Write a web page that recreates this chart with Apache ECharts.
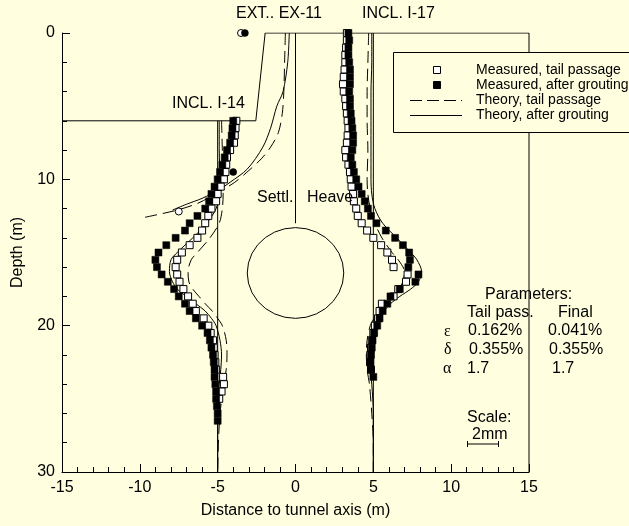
<!DOCTYPE html>
<html>
<head>
<meta charset="utf-8">
<script src="https://cdn.jsdelivr.net/npm/echarts@6/dist/echarts.min.js"></script>
<style>
  html, body { margin: 0; padding: 0; background: #ffffe0; }
  #chart { width: 629px; height: 526px; }
</style>
</head>
<body>
<div id="chart"></div>
<script>
// ---- axes ----
const xRange = [-15, 15];      // distance to tunnel axis (m)
const depthRange = [0, 30];    // depth (m)

// ---- inclinometer positions (m) ----
const i14Line = -5;
const i17Line = 5;

// ---- I-14 measured horizontal displacement (mm, 1 mm drawn as 1 m) ----
const i14DepthAfter = [6.0, 6.5, 7.0, 7.5, 8.0, 8.5, 9.0, 9.5, 10.0, 10.5, 11.0, 11.5, 12.0, 12.5, 13.0, 13.5,
  14.0, 14.5, 15.0, 15.5, 16.0, 16.5, 17.0, 17.5, 18.0, 18.5, 19.0, 19.5, 20.0, 20.5, 21.0, 21.5,
  22.0, 22.5, 23.0, 23.5, 24.0, 24.5, 25.0, 25.5, 26.0, 26.5];
const i14After = [1.0, 0.95, 0.9, 0.8, 0.6, 0.45, 0.3, 0.15, 0.0, -0.2, -0.4, -0.55, -0.8, -1.3, -1.8, -2.1,
  -2.7, -3.3, -3.8, -4.0, -3.9, -3.6, -3.2, -2.8, -2.5, -2.1, -1.8, -1.4, -1.0, -0.65, -0.5, -0.4,
  -0.3, -0.25, -0.2, -0.2, -0.15, -0.1, -0.1, -0.05, 0.0, 0.0];

const i14DepthTail = [6.0, 6.5, 7.0, 7.5, 8.0, 8.5, 9.0, 9.5, 10.0, 10.5, 11.0, 11.5, 12.0, 12.5, 13.0, 13.5,
  14.0, 14.5, 15.0, 15.5, 16.0, 16.5, 17.0, 17.5, 18.0, 18.5, 19.0, 19.5, 20.0, 20.5, 21.0, 21.5,
  22.0, 22.5, 23.0, 23.5, 24.0, 24.5, 25.0];
const i14Tail = [1.2, 1.15, 1.1, 1.05, 0.8, 0.6, 0.55, 0.5, 0.4, 0.2, 0.0, -0.1, -0.4, -0.6, -0.8, -1.0,
  -1.3, -1.8, -2.3, -2.6, -2.7, -2.6, -2.45, -2.2, -1.9, -1.6, -1.4, -0.9, -0.6, -0.45, -0.3, -0.25,
  -0.2, -0.15, -0.1, 0.35, 0.4, 0.25, 0.1];

// ---- I-17 measured horizontal displacement (mm) ----
const i17DepthAfter = [0.0, 0.5, 1.0, 1.5, 2.0, 2.5, 3.0, 3.5, 4.0, 4.5, 5.0, 5.5, 6.0, 6.5, 7.0, 7.5,
  8.0, 8.5, 9.0, 9.5, 10.0, 10.5, 11.0, 11.5, 12.0, 12.5, 13.0, 13.5, 14.0, 14.5, 15.0, 15.5,
  16.0, 16.5, 17.0, 17.5, 18.0, 18.5, 19.0, 19.5, 20.0, 20.5, 21.0, 21.5, 22.0, 22.5, 23.0, 23.5];
const i17After = [-1.6, -1.55, -1.6, -1.6, -1.55, -1.5, -1.5, -1.5, -1.55, -1.5, -1.5, -1.45, -1.4, -1.35, -1.3, -1.3,
  -1.35, -1.45, -1.35, -1.25, -1.1, -0.95, -0.75, -0.55, -0.35, -0.15, 0.2, 0.8, 1.4, 1.9, 2.3, 2.35,
  2.25, 2.9, 2.7, 1.7, 1.1, 0.9, 0.6, 0.4, 0.25, 0.05, -0.05, -0.1, -0.15, -0.2, -0.15, 0.0];

const i17DepthTail = [0.0, 0.5, 1.0, 1.5, 2.0, 2.5, 3.0, 3.5, 4.0, 4.5, 5.0, 5.5, 6.0, 6.5, 7.0, 7.5,
  8.0, 8.5, 9.0, 9.5, 10.0, 10.5, 11.0, 11.5, 12.0, 12.5, 13.0, 13.5, 14.0, 14.5, 15.0, 15.5,
  16.0, 16.5, 17.0, 17.5, 18.0, 18.5, 19.0, 19.5, 20.0, 20.5, 21.0, 21.5, 22.0, 22.5, 23.0];
const i17Tail = [-1.7, -1.7, -1.75, -1.8, -1.8, -1.85, -1.9, -1.95, -1.9, -1.8, -1.75, -1.7, -1.65, -1.6, -1.65, -1.7,
  -1.8, -1.75, -1.6, -1.5, -1.45, -1.4, -1.3, -1.25, -1.1, -1.0, -0.75, -0.4, 0.0, 0.5, 0.9, 1.2,
  1.3, 2.2, 2.1, 1.6, 1.3, 0.55, 0.4, 0.3, 0.1, 0.0, -0.1, -0.15, -0.2, -0.2, -0.15];

// ---- theoretical horizontal displacement (mm) ----
const thDepthI14 = [6, 8, 10, 11, 12, 13, 14, 15, 15.5, 16.3, 17, 17.5, 18, 18.5, 19, 19.5, 20, 21, 22, 23, 24, 26, 28, 30];
const thI14Final = [0.1, 0.1, 0.15, 0.1, -0.1, -0.7, -1.6, -2.6, -3.0, -3.1, -2.9, -2.6, -2.0, -1.4, -0.8, -0.4, -0.1, 0.15, 0.25, 0.2, 0.1, 0.0, 0.0, 0.0];
const thI14Tail = [0.25, 0.3, 0.35, 0.35, 0.3, 0.1, -0.5, -1.3, -1.7, -1.9, -1.85, -1.6, -1.2, -0.8, -0.35, 0.0, 0.3, 0.55, 0.6, 0.55, 0.4, 0.15, 0.05, 0.0];

const thDepthI17 = [0, 2, 4, 6, 8, 10, 11, 12, 13, 14, 15, 15.5, 16.3, 17, 17.5, 18, 18.5, 19, 19.5, 20, 21, 22, 23, 24, 26, 28, 30];
const thI17Final = [-0.1, -0.1, -0.15, -0.15, -0.15, -0.15, -0.1, 0.1, 0.6, 1.5, 2.4, 2.8, 3.1, 2.9, 2.4, 1.7, 1.1, 0.7, 0.4, 0.15, -0.1, -0.2, -0.2, -0.1, 0.0, 0.0, 0.0];
const thI17Tail = [-0.3, -0.35, -0.4, -0.4, -0.35, -0.4, -0.35, -0.2, 0.1, 0.55, 1.2, 1.6, 2.0, 1.9, 1.6, 1.2, 0.8, 0.4, 0.05, -0.2, -0.4, -0.45, -0.4, -0.25, -0.1, 0.0, 0.0];

// ---- theoretical vertical displacement on the tunnel axis (mm, settlement to the left) ----
const settleDepthTail = [0, 2, 4, 5.5, 6.8, 7.8, 8.6, 9.4, 10.2, 10.9, 11.6, 12.1, 12.6];
const settleTail = [-0.65, -0.7, -0.75, -0.85, -1.1, -1.6, -2.2, -3.0, -3.9, -5.0, -6.2, -7.6, -9.7];
const settleDepthFinal = [0, 2, 4, 5, 6.5, 7.8, 9.3, 10.2, 10.7, 11.3, 11.7, 12.1];
const settleFinal = [-0.4, -0.5, -0.8, -1.2, -1.6, -2.1, -3.1, -4.2, -4.9, -6.0, -7.0, -7.9];

// ---- extensometer EX-11 readings [x, depth] ----
const ex11Tail = [[-3.5, 0], [-7.5, 12.2]];
const ex11After = [[-3.25, 0], [-4.0, 9.5]];

// ---- geometry ----
const groundOutline = [[-15, 6], [-2.55, 6], [-1.95, 0], [15, 0], [15, 30]];
const axisLineDepth = 13;
const tunnelCenterDepth = 16.4;
const tunnelRadius = 3.1;

const BG = '#ffffe0';
const FONT = '"Liberation Sans", Arial, Helvetica, sans-serif';
const INK = '#000';

function profile(base, depths, disp) {
  return depths.map((d, i) => [base + disp[i], d]);
}
function tunnelOutline(n) {
  const pts = [];
  for (let k = 0; k <= n; k++) {
    const a = (2 * Math.PI * k) / n;
    pts.push([tunnelRadius * Math.cos(a), tunnelCenterDepth + tunnelRadius * Math.sin(a)]);
  }
  return pts;
}

const solid = { color: INK, width: 1 };
const dashed = { color: INK, width: 1, type: [12, 6] };

function lineSeries(data, style, smooth) {
  return {
    type: 'line', data: data, showSymbol: false, symbol: 'none',
    smooth: smooth || false, lineStyle: style, z: 2, silent: true
  };
}
function markerSeries(name, data, symbol, open, size) {
  return {
    type: 'scatter', name: name, data: data, symbol: symbol, symbolSize: size || 7, z: open ? 4 : 5,
    itemStyle: open ? { color: '#fff', borderColor: INK, borderWidth: 1, opacity: 1 }
                    : { color: INK, borderColor: INK, borderWidth: 0.5, opacity: 1 },
    silent: true
  };
}

const chart = echarts.init(document.getElementById('chart'), null, { renderer: 'canvas' });

const tickLine = { color: INK, width: 1 };
const labelStyle = { color: INK, fontSize: 16, fontFamily: FONT };

// labelled axes with long ticks
const xMain = {
  type: 'value', position: 'bottom', min: xRange[0], max: xRange[1], interval: 5,
  axisLine: { show: true, onZero: false, lineStyle: tickLine },
  axisTick: { show: true, inside: true, length: 8, lineStyle: tickLine },
  splitLine: { show: false },
  axisLabel: Object.assign({ margin: 8 }, labelStyle),
  name: 'Distance to tunnel axis (m)', nameLocation: 'middle', nameGap: 31,
  nameTextStyle: labelStyle
};
const yMain = {
  type: 'value', position: 'left', inverse: true, min: depthRange[0], max: depthRange[1], interval: 10,
  axisLine: { show: true, onZero: false, lineStyle: tickLine },
  axisTick: { show: true, inside: true, length: 8, lineStyle: tickLine },
  splitLine: { show: false },
  axisLabel: Object.assign({ margin: 7 }, labelStyle),
  name: 'Depth (m)', nameLocation: 'middle', nameGap: 36,
  nameTextStyle: labelStyle
};
// unlabelled companions carrying the short intermediate ticks
const xMinor = {
  type: 'value', position: 'bottom', min: xRange[0], max: xRange[1], interval: 1,
  axisLine: { show: false, onZero: false }, axisLabel: { show: false }, splitLine: { show: false },
  axisTick: { show: true, inside: true, length: 5, lineStyle: tickLine }
};
const yMinor = {
  type: 'value', position: 'left', inverse: true, min: depthRange[0], max: depthRange[1], interval: 2,
  axisLine: { show: false, onZero: false }, axisLabel: { show: false }, splitLine: { show: false },
  axisTick: { show: true, inside: true, length: 5, lineStyle: tickLine }
};

const text = (t, x, y, opts) => ({
  type: 'text', z: 120,
  style: Object.assign({
    text: t, x: x, y: y, fill: INK, font: '16px ' + FONT,
    align: 'left', textAlign: 'left', verticalAlign: 'middle', textVerticalAlign: 'middle'
  }, opts || {})
});
const greek = (t, x, y) => text(t, x, y, { font: '16px "Liberation Serif", "Times New Roman", serif' });

chart.setOption({
  backgroundColor: BG,
  animation: false,
  grid: { left: 62, right: 100, top: 33, bottom: 54, containLabel: false },
  xAxis: [xMain, xMinor],
  yAxis: [yMain, yMinor],
  series: [
    lineSeries(groundOutline, solid),
    lineSeries([[i14Line, 6], [i14Line, depthRange[1]]], solid),
    lineSeries([[i17Line, 0], [i17Line, depthRange[1]]], solid),
    lineSeries([[0, 0], [0, axisLineDepth]], solid),
    lineSeries(tunnelOutline(28), solid),

    lineSeries(profile(0, settleDepthTail, settleTail), dashed, 0.3),
    lineSeries(profile(0, settleDepthFinal, settleFinal), solid, 0.3),
    lineSeries(profile(i14Line, thDepthI14, thI14Tail), dashed, 0.3),
    lineSeries(profile(i14Line, thDepthI14, thI14Final), solid, 0.3),
    lineSeries(profile(i17Line, thDepthI17, thI17Tail), dashed, 0.3),
    lineSeries(profile(i17Line, thDepthI17, thI17Final), solid, 0.3),

    markerSeries('Measured, tail passage', profile(i14Line, i14DepthTail, i14Tail), 'rect', true),
    markerSeries('Measured, after grouting', profile(i14Line, i14DepthAfter, i14After), 'rect', false),
    markerSeries('Measured, tail passage', profile(i17Line, i17DepthTail, i17Tail), 'rect', true),
    markerSeries('Measured, after grouting', profile(i17Line, i17DepthAfter, i17After), 'rect', false),
    markerSeries('EX-11 tail passage', ex11Tail, 'circle', true, 7),
    markerSeries('EX-11 after grouting', ex11After, 'circle', false, 7)
  ],
  graphic: [
    // legend
    { type: 'rect', z: 110, shape: { x: 393.5, y: 52.5, width: 260, height: 80 },
      style: { fill: BG, stroke: INK, lineWidth: 1 } },
    { type: 'rect', z: 115, shape: { x: 433.5, y: 66.5, width: 7, height: 7 },
      style: { fill: '#fff', stroke: INK, lineWidth: 1 } },
    { type: 'rect', z: 115, shape: { x: 433.5, y: 81.5, width: 7, height: 7 },
      style: { fill: INK, stroke: INK, lineWidth: 1 } },
    { type: 'line', z: 115, shape: { x1: 410, y1: 100.5, x2: 462, y2: 100.5 },
      style: { stroke: INK, lineWidth: 1, lineDash: [12, 5] } },
    { type: 'line', z: 115, shape: { x1: 410, y1: 115.5, x2: 462, y2: 115.5 },
      style: { stroke: INK, lineWidth: 1 } },
    text('Measured, tail passage', 476, 70, { font: '14px ' + FONT }),
    text('Measured, after grouting', 476, 85, { font: '14px ' + FONT }),
    text('Theory, tail passage', 476, 100, { font: '14px ' + FONT }),
    text('Theory, after grouting', 476, 115, { font: '14px ' + FONT }),

    // instrument labels
    text('EXT.. EX-11', 236, 14),
    text('INCL. I-17', 362, 14),
    text('INCL. I-14', 172, 104),
    text('Settl.', 257, 198),
    text('Heave', 307, 198),

    // parameters
    text('Parameters:', 485, 295),
    text('Tail pass.', 467, 313),
    text('Final', 558, 313),
    greek('\u03b5', 444, 332),
    text('0.162%', 468, 331),
    text('0.041%', 548, 331),
    greek('\u03b4', 444, 350),
    text('0.355%', 469, 350),
    text('0.355%', 549, 350),
    greek('\u03b1', 443, 369),
    text('1.7', 467, 369),
    text('1.7', 552, 369),

    // displacement scale bar
    text('Scale:', 467, 418),
    text('2mm', 472, 435),
    { type: 'polyline', z: 115, shape: { points: [[467.5, 441], [467.5, 447], [467.5, 444], [498.5, 444], [498.5, 441], [498.5, 447]] },
      style: { stroke: INK, lineWidth: 1, fill: null } }
  ]
});
</script>
</body>
</html>
